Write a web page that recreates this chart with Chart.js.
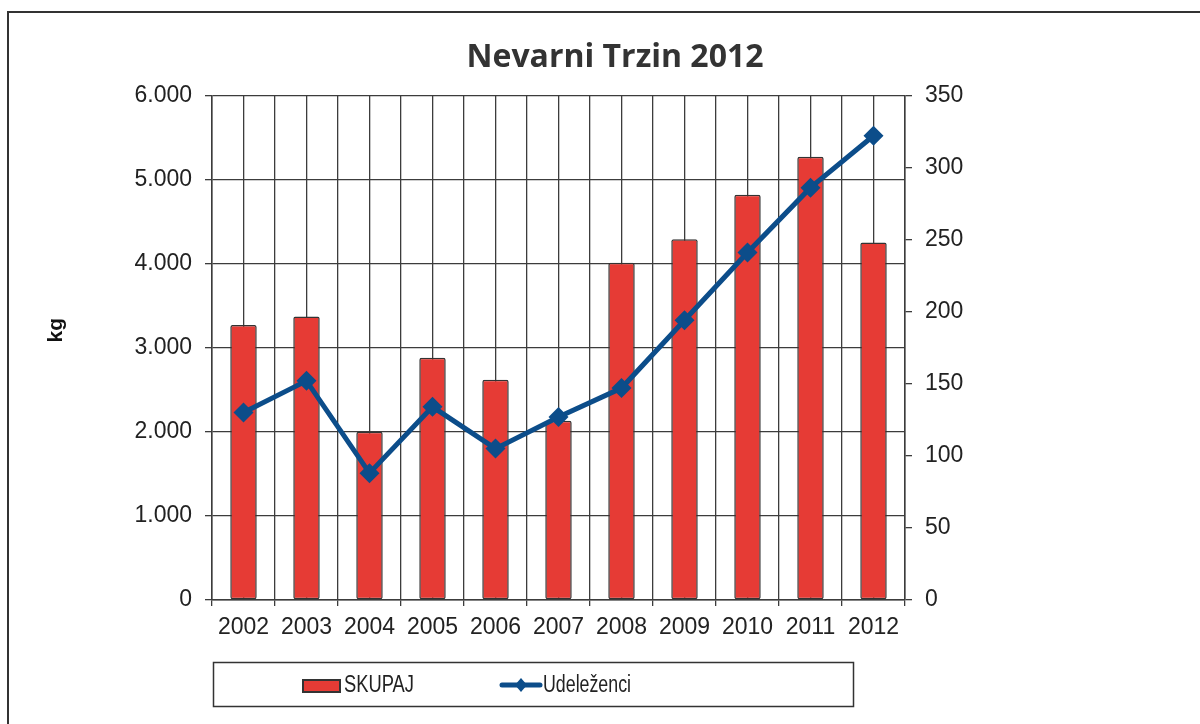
<!DOCTYPE html>
<html>
<head>
<meta charset="utf-8">
<script src="https://cdn.jsdelivr.net/npm/chart.js@4/dist/chart.umd.min.js"></script>
<style>
  body { margin: 0; background: #fff; }
  #wrap { position: relative; width: 1200px; height: 724px; }
  #frame { position: absolute; left: 7px; top: 11px; right: -4px; bottom: -4px;
           border-left: 2px solid #333; border-top: 2px solid #333; }
  canvas { position: absolute; left: 0; top: 0; }
</style>
</head>
<body>
<div id="wrap">
  <div id="frame"></div>
  <canvas id="trzin" width="1200" height="724"></canvas>
</div>
<script>
const years = ['2002', '2003', '2004', '2005', '2006', '2007', '2008', '2009', '2010', '2011', '2012']
const skupaj = [3270, 3370, 2000, 2880, 2620, 2130, 4010, 4290, 4820, 5270, 4250]
const udelezenci = [130, 152, 88, 134, 105, 127, 147, 194, 241, 286, 322]
const kgTicks = [0, 1000, 2000, 3000, 4000, 5000, 6000]
const personTicks = [0, 50, 100, 150, 200, 250, 300, 350]

const RED = '#e63b35'
const BLUE = '#0c4d8a'
const GRID = '#3c3c3c'

Chart.defaults.font.family = "'Liberation Sans', Arial, sans-serif"
Chart.defaults.font.size = 23
Chart.defaults.color = '#222'

// framed legend under the x axis
const boxLegend = {
    id: 'boxLegend',
    afterDraw(chart) {
        const ctx = chart.ctx
        ctx.save()
        ctx.strokeStyle = '#333'
        ctx.lineWidth = 1.5
        ctx.strokeRect(213.5, 662.5, 640, 44)

        ctx.fillStyle = RED
        ctx.fillRect(303, 680, 37, 12)
        ctx.strokeStyle = '#333'
        ctx.lineWidth = 2
        ctx.strokeRect(303, 680, 37, 12)

        ctx.strokeStyle = BLUE
        ctx.lineWidth = 5
        ctx.lineCap = 'round'
        ctx.beginPath()
        ctx.moveTo(502, 685)
        ctx.lineTo(540, 685)
        ctx.stroke()
        ctx.fillStyle = BLUE
        ctx.beginPath()
        ctx.moveTo(521, 678); ctx.lineTo(527, 685); ctx.lineTo(521, 692); ctx.lineTo(515, 685)
        ctx.closePath()
        ctx.fill()

        ctx.fillStyle = '#222'
        ctx.font = "23px 'Liberation Sans', Arial, sans-serif"
        ctx.textBaseline = 'middle'
        ctx.fillText(chart.data.datasets[1].label, 344, 686, 70)
        ctx.fillText(chart.data.datasets[0].label, 543, 686, 88)
        ctx.restore()
    }
}

const ctx = document.getElementById('trzin')
new Chart(ctx, {
    data: {
        labels: years,
        datasets: [
            {
                type: 'line',
                label: 'Udeleženci',
                data: udelezenci,
                yAxisID: 'y1',
                borderColor: BLUE,
                backgroundColor: BLUE,
                borderWidth: 5,
                pointStyle: 'rectRot',
                pointRadius: 10,
                pointBorderWidth: 0,
                tension: 0,
                order: 0
            },
            {
                type: 'bar',
                label: 'SKUPAJ',
                data: skupaj,
                yAxisID: 'y',
                backgroundColor: RED,
                borderColor: '#333',
                borderWidth: 1.5,
                borderRadius: 2,
                borderSkipped: false,
                categoryPercentage: 0.42,
                barPercentage: 1,
                order: 1
            }
        ]
    },
    options: {
        responsive: false,
        animation: false,
        layout: { padding: { left: 30, right: 0, top: 0, bottom: 84 } },
        plugins: {
            legend: { display: false },
            tooltip: { enabled: false },
            title: {
                display: true,
                text: 'Nevarni Trzin 2012',
                color: '#333',
                font: { family: "'Open Sans', sans-serif", size: 32, weight: 'bold' },
                padding: { top: 39, bottom: 18 }
            }
        },
        scales: {
            x: {
                type: 'category',
                offset: true,
                grid: { color: GRID, lineWidth: 1.3, offset: true, tickLength: 6, tickColor: GRID },
                border: { color: GRID, width: 1.5 },
                ticks: { padding: 8, maxRotation: 0 },
                afterFit: s => { s.height = 40 }
            },
            x2: {
                type: 'category',
                position: 'bottom',
                offset: true,
                grid: { color: GRID, lineWidth: 1.3, offset: false, drawTicks: false },
                border: { display: false },
                ticks: { display: false },
                afterFit: s => { s.height = 0 }
            },
            y: {
                position: 'left',
                min: 0,
                max: 6000,
                afterBuildTicks: s => { s.ticks = kgTicks.map(v => ({ value: v })) },
                grid: { color: GRID, lineWidth: 1.3, tickLength: 7, tickColor: GRID },
                border: { color: GRID, width: 1.5 },
                ticks: {
                    padding: 13,
                    callback: v => v.toLocaleString('de-DE')
                },
                title: {
                    display: true,
                    // leading spaces lift the rotated label a little above the axis middle
                    text: '      kg',
                    color: '#111',
                    font: { size: 21, weight: 'bold' },
                    padding: { top: 14, bottom: 0 }
                },
                afterFit: s => { s.width = 182 }
            },
            y1: {
                position: 'right',
                min: 0,
                max: 350,
                afterBuildTicks: s => { s.ticks = personTicks.map(v => ({ value: v })) },
                grid: { drawOnChartArea: false, tickLength: 7, tickColor: GRID, lineWidth: 1.3 },
                border: { color: GRID, width: 1.5 },
                ticks: { padding: 13 },
                afterFit: s => { s.width = 295 }
            }
        }
    },
    plugins: [boxLegend]
})
</script>
</body>
</html>
